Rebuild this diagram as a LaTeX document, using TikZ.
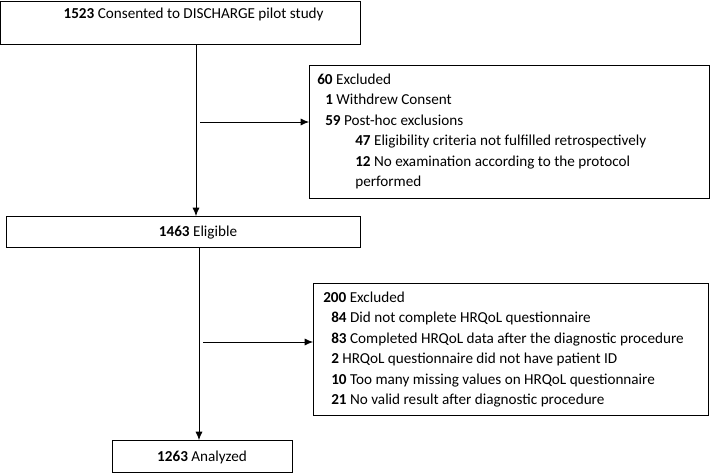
\documentclass[tikz,border=0pt]{standalone}
\usepackage{fontspec}
\setmainfont{Carlito}
\usetikzlibrary{arrows.meta}

\tikzset{
    flowbox/.style={draw, line width=0.9pt, inner sep=0pt, anchor=north west},
    boxtext/.style={inner sep=0pt, anchor=base},
    listtext/.style={inner sep=0pt, anchor=west, align=left},
    flowline/.style={line width=0.6pt},
}
\newcommand{\subA}{\hspace*{0.2cm}}
\newcommand{\subB}{\hspace*{0.95cm}}

\begin{document}
\begin{tikzpicture}[>={Latex[length=2.1mm,width=1.8mm]}, font=\fontsize{10.8}{14.6}\selectfont]
        \useasboundingbox (0,0) rectangle (17.75,11.825);

        % main column
        \node[flowbox, minimum width=9cm, minimum height=1.075cm] (consent) at (0,11.81) {};
        \node[boxtext] (consentTxt) at (4.84,11.35) {\textbf{1523} Consented to DISCHARGE pilot study};

        \node[flowbox, minimum width=8.85cm, minimum height=0.775cm] (eligible) at (0.15,6.425) {};
        \node[boxtext] (eligibleTxt) at (4.95,5.915) {\textbf{1463} Eligible};

        \node[flowbox, minimum width=4.5cm, minimum height=0.8cm] (analyzed) at (2.8,0.825) {};
        \node[boxtext] (analyzedTxt) at (5.05,0.3) {\textbf{1263} Analyzed};

        % exclusion boxes
        \node[flowbox, minimum width=9.9875cm, minimum height=3.325cm] (excl1) at (7.725,10.2) {};
        \node[listtext] (excl1Txt) at ([xshift=0.2cm, yshift=0.02cm]excl1.west) {%
            \textbf{60} Excluded\\
            \subA\textbf{1} Withdrew Consent\\
            \subA\textbf{59} Post-hoc exclusions\\
            \subB\textbf{47} Eligibility criteria not fulfilled retrospectively\\
            \subB\textbf{12} No examination according to the protocol\\
            \subB performed};

        \node[flowbox, minimum width=9.875cm, minimum height=3.3cm] (excl2) at (7.825,4.75) {};
        \node[listtext] (excl2Txt) at ([xshift=0.25cm]excl2.west) {%
            \textbf{200} Excluded\\
            \subA\textbf{84} Did not complete HRQoL questionnaire\\
            \subA\textbf{83} Completed HRQoL data after the diagnostic procedure\\
            \subA\textbf{2} HRQoL questionnaire did not have patient ID\\
            \subA\textbf{10} Too many missing values on HRQoL questionnaire\\
            \subA\textbf{21} No valid result after diagnostic procedure};

        % connectors
        \coordinate (split1) at (5.0,8.775);
        \coordinate (split2) at (5.075,3.275);
        \draw[flowline, ->] (consent.south -| 4.9,0) -- (eligible.north -| 4.9,0);
        \draw[flowline, ->] (eligible.south -| 4.975,0) -- (analyzed.north -| 4.975,0);
        \draw[flowline, ->] (split1) -- (split1 -| excl1.west);
        \draw[flowline, ->] (split2) -- (split2 -| excl2.west);
    \end{tikzpicture}
\end{document}
